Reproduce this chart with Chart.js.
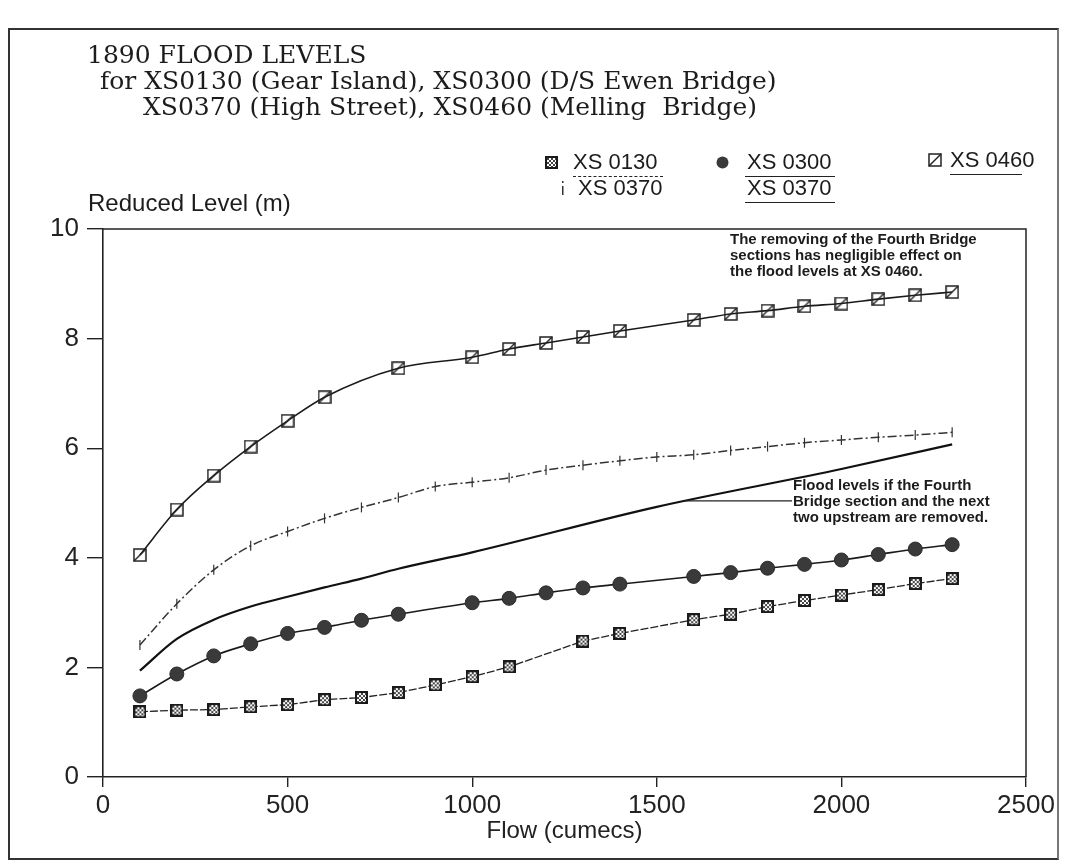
<!DOCTYPE html>
<html>
<head>
<meta charset="utf-8">
<script src="https://cdn.jsdelivr.net/npm/chart.js@4.4.1/dist/chart.umd.min.js"></script>
<style>
  body { margin: 0; background: #fff; }
  #wrap { position: relative; width: 1067px; height: 865px; }
  #frame { position: absolute; left: 8px; top: 28px; width: 1051px; height: 832px;
           border: 2px solid #333; border-right-color: #777; box-sizing: border-box; }
  .t { position: absolute; white-space: nowrap; color: #1c1c1c; }
  .title { font-family: "DejaVu Serif", serif; font-size: 25px; line-height: 25px; }
  .sans { font-family: "Liberation Sans", Arial, sans-serif; }
  .leg { font-size: 22px; line-height: 22px; }
  .note { font-family: "Liberation Sans", Arial, sans-serif; font-weight: bold;
          font-size: 15px; line-height: 16px; }
  .ul { position: absolute; height: 0; border-top: 1.5px solid #222; }
  .mk { position: absolute; }
</style>
</head>
<body>
<div id="wrap">
  <canvas id="flood-chart"></canvas>
  <div id="frame"></div>

  <div class="t title" style="left:87px;top:42px;">1890 FLOOD LEVELS</div>
  <div class="t title" style="left:100px;top:68px;">for XS0130 (Gear Island), XS0300 (D/S Ewen Bridge)</div>
  <div class="t title" style="left:143px;top:94px;">XS0370 (High Street), XS0460 (Melling&nbsp; Bridge)</div>

  <div class="t sans leg" style="left:573px;top:151px;">XS 0130</div>
  <div class="ul" style="left:573px;top:176px;width:90px;border-top-style:dashed;"></div>
  <div class="t sans leg" style="left:747px;top:151px;">XS 0300</div>
  <div class="ul" style="left:745px;top:176px;width:90px;"></div>
  <div class="t sans leg" style="left:950px;top:149px;">XS 0460</div>
  <div class="ul" style="left:950px;top:174px;width:72px;"></div>
  <div class="t sans leg" style="left:578px;top:177px;">XS 0370</div>
  <div class="t sans leg" style="left:747px;top:177px;">XS 0370</div>
  <div class="ul" style="left:745px;top:202px;width:90px;"></div>
  <div id="mk130" class="mk" style="left:545px;top:155px;"></div>
  <div id="mk300" class="mk" style="left:716px;top:155px;"></div>
  <div id="mk460" class="mk" style="left:928px;top:153px;"></div>
  <div id="mk370" class="mk" style="left:560px;top:181px;"></div>

  <div class="t sans" style="left:88px;top:191px;font-size:24px;line-height:24px;">Reduced Level (m)</div>

  <div class="t note" style="left:730px;top:231px;">The removing of the Fourth Bridge<br>sections has negligible effect on<br>the flood levels at XS 0460.</div>
  <div class="t note" style="left:793px;top:477px;">Flood levels if the Fourth<br>Bridge section and the next<br>two upstream are removed.</div>
</div>

<script>
// 1890 flood levels, reduced level (m) against flow (cumecs)
const xTicks = [0, 500, 1000, 1500, 2000, 2500];
const yTicks = [0, 2, 4, 6, 8, 10];

// XS 0460 (Melling Bridge)
const flows460 = [100, 200, 300, 400, 500, 600, 800, 1000, 1100, 1200, 1300, 1400, 1600, 1700, 1800, 1900, 2000, 2100, 2200, 2300];
const levels460 = [4.05, 4.88, 5.5, 6.03, 6.5, 6.93, 7.46, 7.66, 7.81, 7.92, 8.03, 8.14, 8.34, 8.45, 8.51, 8.59, 8.64, 8.72, 8.79, 8.85];

// XS 0370 (High Street)
const flows370 = [100, 200, 300, 400, 500, 600, 700, 800, 900, 1000, 1100, 1200, 1300, 1400, 1500, 1600, 1700, 1800, 1900, 2000, 2100, 2200, 2300];
const levels370 = [2.41, 3.16, 3.78, 4.22, 4.48, 4.72, 4.92, 5.1, 5.3, 5.38, 5.46, 5.6, 5.69, 5.77, 5.84, 5.88, 5.96, 6.03, 6.1, 6.15, 6.2, 6.24, 6.29];

// XS 0370 with the Fourth Bridge section and next two upstream removed
const flows370r = [100, 200, 300, 400, 500, 600, 700, 800, 1000, 1500, 2000, 2300];
const levels370r = [1.94, 2.52, 2.87, 3.11, 3.29, 3.46, 3.62, 3.8, 4.1, 4.93, 5.62, 6.07];

// XS 0300 (D/S Ewen Bridge)
const flows300 = [100, 200, 300, 400, 500, 600, 700, 800, 1000, 1100, 1200, 1300, 1400, 1600, 1700, 1800, 1900, 2000, 2100, 2200, 2300];
const levels300 = [1.48, 1.88, 2.21, 2.43, 2.62, 2.73, 2.86, 2.97, 3.18, 3.26, 3.36, 3.45, 3.52, 3.66, 3.73, 3.81, 3.88, 3.96, 4.06, 4.16, 4.24];

// XS 0130 (Gear Island)
const flows130 = [100, 200, 300, 400, 500, 600, 700, 800, 900, 1000, 1100, 1300, 1400, 1600, 1700, 1800, 1900, 2000, 2100, 2200, 2300];
const levels130 = [1.19, 1.22, 1.23, 1.28, 1.32, 1.41, 1.45, 1.54, 1.68, 1.83, 2.01, 2.48, 2.62, 2.87, 2.97, 3.11, 3.22, 3.32, 3.42, 3.53, 3.62];

// where the note's leader line meets the "removed" curve
const leaderFlow = 1577;
const leaderLevel = 5.04;

const pts = (xs, ys) => xs.map((x, i) => ({ x: x, y: ys[i] }));

function boxMarker(size, diag) {
  const c = document.createElement("canvas");
  c.width = c.height = size;
  const g = c.getContext("2d");
  g.strokeStyle = "#222";
  g.lineWidth = 1.5;
  g.strokeRect(1, 1, size - 2, size - 2);
  if (diag) {
    g.beginPath();
    g.moveTo(1, size - 1);
    g.lineTo(size - 1, 1);
    g.stroke();
  }
  return c;
}

function checkMarker(size) {
  const c = document.createElement("canvas");
  c.width = c.height = size;
  const g = c.getContext("2d");
  g.fillStyle = "#fff";
  g.fillRect(0, 0, size, size);
  g.fillStyle = "#444";
  for (let i = 2; i < size - 2; i += 2) {
    for (let j = 2; j < size - 2; j += 2) {
      if ((i + j) % 4 === 0) g.fillRect(i, j, 2, 2);
    }
  }
  g.strokeStyle = "#1a1a1a";
  g.lineWidth = 2;
  g.strokeRect(1, 1, size - 2, size - 2);
  return c;
}

function dotMarker(size) {
  const c = document.createElement("canvas");
  c.width = c.height = size;
  const g = c.getContext("2d");
  g.fillStyle = "#3a3a3a";
  g.beginPath();
  g.arc(size / 2, size / 2, size / 2 - 0.5, 0, Math.PI * 2);
  g.fill();
  return c;
}

function tickMarker() {
  const c = document.createElement("canvas");
  c.width = 6;
  c.height = 14;
  const g = c.getContext("2d");
  g.fillStyle = "#333";
  g.fillRect(2, 0, 1.5, 2);
  g.fillRect(2, 5, 1.5, 9);
  return c;
}

const mark460 = boxMarker(14, true);
const mark130 = checkMarker(13);

document.getElementById("mk130").appendChild(checkMarker(13));
document.getElementById("mk300").appendChild(dotMarker(13));
document.getElementById("mk460").appendChild(boxMarker(14, true));
document.getElementById("mk370").appendChild(tickMarker());

const framePlugin = {
  id: "frame",
  afterDraw(chart) {
    const { ctx, chartArea: a, scales } = chart;
    ctx.save();
    ctx.strokeStyle = "#222";
    ctx.lineWidth = 1.5;
    ctx.beginPath();
    ctx.moveTo(a.left, a.top);
    ctx.lineTo(a.right, a.top);
    ctx.lineTo(a.right, a.bottom);
    ctx.stroke();
    // leader line for the lower note
    const ly = scales.y.getPixelForValue(leaderLevel);
    ctx.lineWidth = 1.2;
    ctx.beginPath();
    ctx.moveTo(scales.x.getPixelForValue(leaderFlow), ly);
    ctx.lineTo(792, ly);
    ctx.stroke();
    ctx.restore();
  },
};

const tickFont = { family: "'Liberation Sans', Arial, sans-serif", size: 26 };

new Chart(document.getElementById("flood-chart"), {
  type: "line",
  data: {
    datasets: [
      {
        label: "XS 0460",
        data: pts(flows460, levels460),
        borderColor: "#1a1a1a",
        borderWidth: 1.6,
        cubicInterpolationMode: "monotone",
        pointStyle: mark460,
      },
      {
        label: "XS 0370",
        data: pts(flows370, levels370),
        borderColor: "#333",
        borderWidth: 1.5,
        borderDash: [9, 3, 2, 3],
        cubicInterpolationMode: "monotone",
        pointStyle: "line",
        rotation: 90,
        pointRadius: 5,
        pointBorderColor: "#333",
        pointBorderWidth: 1.2,
      },
      {
        label: "XS 0370 (removed)",
        data: pts(flows370r, levels370r),
        borderColor: "#111",
        borderWidth: 2.2,
        cubicInterpolationMode: "monotone",
        pointRadius: 0,
      },
      {
        label: "XS 0300",
        data: pts(flows300, levels300),
        borderColor: "#1a1a1a",
        borderWidth: 1.6,
        cubicInterpolationMode: "monotone",
        pointStyle: "circle",
        pointRadius: 7,
        pointBackgroundColor: "#3a3a3a",
        pointBorderColor: "#2a2a2a",
        pointBorderWidth: 1,
      },
      {
        label: "XS 0130",
        data: pts(flows130, levels130),
        borderColor: "#222",
        borderWidth: 1.3,
        borderDash: [8, 2],
        tension: 0,
        pointStyle: mark130,
      },
    ],
  },
  options: {
    responsive: true,
    maintainAspectRatio: false,
    animation: false,
    events: [],
    layout: { padding: { left: 0, right: 41, top: 229, bottom: 18 } },
    plugins: { legend: { display: false }, tooltip: { enabled: false } },
    scales: {
      x: {
        type: "linear",
        min: 0,
        max: 2500,
        afterFit: (s) => { s.height = 70; },
        afterBuildTicks: (s) => { s.ticks = xTicks.map((v) => ({ value: v })); },
        border: { display: true, color: "#222", width: 1.6 },
        grid: { drawOnChartArea: false, drawTicks: true, tickLength: 10, color: "#222", lineWidth: 1.4 },
        ticks: { font: tickFont, color: "#222", padding: 3, maxRotation: 0, callback: (v) => String(v) },
        title: {
          display: true,
          text: "Flow (cumecs)",
          font: { family: "'Liberation Sans', Arial, sans-serif", size: 24 },
          color: "#222",
          padding: { top: 0, bottom: 1 },
        },
      },
      y: {
        min: 0,
        max: 10,
        afterFit: (s) => { s.width = 103; },
        afterBuildTicks: (s) => { s.ticks = yTicks.map((v) => ({ value: v })); },
        border: { display: true, color: "#222", width: 1.6 },
        grid: { drawOnChartArea: false, drawTicks: true, tickLength: 16, color: "#222", lineWidth: 1.4 },
        ticks: { font: tickFont, color: "#222", padding: 8, callback: (v) => String(v) },
      },
    },
  },
  plugins: [framePlugin],
});
</script>
</body>
</html>
